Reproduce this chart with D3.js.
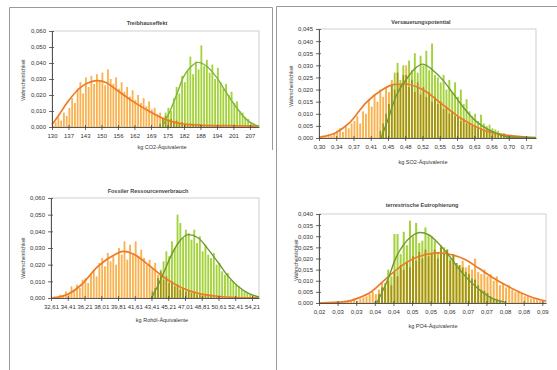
<!DOCTYPE html>
<html><head><meta charset="utf-8">
<script src="https://cdn.jsdelivr.net/npm/d3@7"></script>
<style>
html,body{margin:0;padding:0;background:#fff;}
svg{display:block;font-family:"Liberation Sans",Arial,sans-serif;}
</style></head><body>
<svg id="c" width="557" height="370"></svg>
<script>
// ---------- data ----------
const titles = ["Treibhauseffekt","Versauerungspotential","Fossiler Ressourcenverbrauch","terrestrische Eutrophierung"];
const xTitles = ["kg CO2-Äquivalente","kg SO2-Äquivalente","kg Rohöl-Äquivalente","kg PO4-Äquivalente"];
const yTitle = "Wahrscheinlichkeit";

const xLabels1 = ["130","137","143","150","156","162","169","175","182","188","194","201","207"];
const xLabels2 = ["0,30","0,34","0,37","0,41","0,45","0,48","0,52","0,55","0,59","0,63","0,66","0,70","0,73"];
const xLabels3 = ["32,61","34,41","36,21","38,01","39,81","41,61","43,41","45,21","47,01","48,81","50,61","52,41","54,21"];
const xLabels4 = ["0,02","0,03","0,03","0,04","0,04","0,05","0,05","0,06","0,07","0,07","0,08","0,08","0,09"];

const yTicks1 = [0,0.01,0.02,0.03,0.04,0.05,0.06];
const yTicks2 = [0,0.005,0.01,0.015,0.02,0.025,0.03,0.035,0.04,0.045];
const yTicks3 = [0,0.01,0.02,0.03,0.04,0.05,0.06];
const yTicks4 = [0,0.005,0.01,0.015,0.02,0.025,0.03,0.035,0.04];

// histogram bars: first bin position (in tick units), then bar heights
const orangeStart1 = 0;
const orangeBars1 = [0.001,0.003,0.006,0.004,0.009,0.007,
 0.012,0.018,0.015,0.024,0.028,0.021,
 0.031,0.025,0.032,0.027,0.033,0.029,
 0.034,0.026,0.036,0.030,0.027,0.031,
 0.024,0.028,0.022,0.025,0.019,0.023,
 0.017,0.020,0.015,0.018,0.013,0.016,
 0.011,0.012,0.008,0.009,0.006,0.007,
 0.004,0.005,0.003,0.004,0.002,0.003,
 0.002,0.0015,0.001,0.0015,0.001,0.0008,
 0.001,0.0006,0.0008,0.0005,0.0006,0.0005,
 0.0004,0.0005,0.0004,0.0003,0.0004,0.0003,
 0.0003,0.0002,0.0003,0.0002,0.0002,0.0002,
 0.0002,0.0001,0.0001];
const greenStart1 = 6.5;
const greenBars1 = [0.002,0.005,0.009,0.012,0.010,0.018,0.025,0.021,0.032,0.028,0.035,0.044,
 0.033,0.041,0.036,0.051,0.038,0.042,0.034,0.039,0.030,0.037,0.028,0.024,
 0.027,0.020,0.022,0.015,0.016,0.010,0.009,0.006,0.005,0.003,0.002,0.001];

const orangeStart2 = 0;
const orangeBars2 = [0.0005,0.001,0.0005,0.0015,0.001,0.002,
 0.003,0.004,0.0025,0.005,0.004,0.006,
 0.007,0.009,0.006,0.011,0.010,0.016,
 0.013,0.018,0.015,0.020,0.017,0.021,
 0.019,0.024,0.020,0.027,0.022,0.026,
 0.030,0.021,0.024,0.019,0.023,0.018,
 0.021,0.017,0.019,0.015,0.017,0.014,
 0.015,0.012,0.013,0.010,0.011,0.009,
 0.009,0.007,0.008,0.006,0.006,0.005,
 0.005,0.004,0.004,0.003,0.003,0.0025,
 0.002,0.002,0.0015,0.0015,0.001,0.001,
 0.001,0.0008,0.0006,0.0005,0.0004,0.0003,
 0.0003,0.0002];
const greenStart2 = 3.5;
const greenBars2 = [0.003,0.006,0.010,
 0.014,0.022,0.027,0.031,0.024,0.030,
 0.026,0.032,0.028,0.035,0.027,0.034,
 0.030,0.036,0.028,0.039,0.026,0.025,
 0.023,0.026,0.020,0.024,0.019,0.023,
 0.017,0.020,0.014,0.016,0.011,0.009,
 0.010,0.007,0.0096,0.006,0.005,0.0055,
 0.004,0.0035,0.003,0.002,0.002,0.001,
 0.001,0.0005];

const orangeStart3 = 0;
const orangeBars3 = [0.0005,0.001,0.001,0.002,0.0015,0.004,
 0.003,0.007,0.005,0.008,0.006,0.011,
 0.012,0.009,0.014,0.017,0.013,0.021,
 0.024,0.019,0.027,0.022,0.025,0.020,
 0.030,0.026,0.034,0.023,0.032,0.027,
 0.034,0.025,0.029,0.024,0.020,0.023,
 0.018,0.021,0.014,0.016,0.011,0.013,
 0.009,0.010,0.007,0.008,0.005,0.006,
 0.004,0.0045,0.003,0.003,0.002,0.002,
 0.0015,0.0015,0.001,0.001,0.0008,0.0006,
 0.0005,0.0004,0.0003];
const greenStart3 = 6.0;
const greenBars3 = [0.004,0.006,0.012,0.017,0.022,0.028,
 0.025,0.034,0.030,0.050,0.045,0.036,
 0.041,0.039,0.035,0.041,0.033,0.037,
 0.028,0.032,0.026,0.024,0.027,0.020,
 0.021,0.016,0.014,0.015,0.011,0.010,
 0.008,0.007,0.005,0.004,0.003,0.002,
 0.0015,0.001];

const orangeStart4 = 1.0;
const orangeBars4 = [0.0005,0.0005,0.001,0.0008,0.001,0.0015,
 0.001,0.002,0.0025,0.003,0.004,0.005,
 0.004,0.006,0.009,0.007,0.010,0.008,
 0.014,0.012,0.017,0.015,0.018,0.016,
 0.021,0.019,0.023,0.020,0.024,0.021,
 0.022,0.024,0.020,0.025,0.022,0.024,
 0.019,0.022,0.018,0.017,0.019,0.016,
 0.017,0.015,0.020,0.014,0.013,0.015,
 0.012,0.013,0.010,0.012,0.008,0.009,
 0.007,0.008,0.006,0.005,0.005,0.004,
 0.003,0.003,0.002,0.002,0.0015,0.001,
 0.001];
const greenStart4 = 3.0;
const greenBars4 = [0.001,0.004,0.007,0.009,0.015,0.012,
 0.031,0.031,0.022,0.032,0.026,0.037,
 0.030,0.036,0.027,0.028,0.034,0.031,
 0.030,0.028,0.023,0.026,0.025,0.024,
 0.020,0.022,0.018,0.017,0.016,0.014,
 0.013,0.011,0.0105,0.008,0.006,0.0055,
 0.0045,0.003,0.002,0.0015,0.001];

// fitted curves: [position in tick units, probability]
const orangeCurve1 = [[0,0.0015],[0.45,0.008],[0.9,0.015],[1.9,0.026],[2.8,0.029],[3.3,0.0277],[3.9,0.0233],[4.9,0.016],[5.9,0.0098],[6.9,0.0046],[7.9,0.002],[9,0.0012],[10.5,0.0008],[12.55,0.0005]];
const greenCurve1 = [[6.7,0.0005],[7.15,0.0098],[7.55,0.020],[7.96,0.031],[8.36,0.037],[8.87,0.0404],[9.37,0.038],[9.98,0.031],[10.6,0.021],[11.2,0.012],[11.8,0.0046],[12.4,0.001],[12.55,0.0006]];
const orangeCurve2 = [[0,0.0003],[1.0,0.0023],[1.76,0.0062],[2.72,0.0145],[3.69,0.020],[4.3,0.022],[4.95,0.0223],[6.0,0.020],[7.17,0.0138],[8.33,0.0076],[9.5,0.0034],[10.65,0.0014],[12.2,0.0003],[12.58,0.0002]];
const greenCurve2 = [[3.6,0],[4.0,0.0076],[4.46,0.0172],[5.04,0.024],[5.62,0.029],[6.0,0.0305],[6.6,0.028],[7.17,0.024],[7.75,0.0186],[8.33,0.013],[8.9,0.0083],[9.5,0.0048],[10.26,0.002],[11,0.0004],[12.58,0.0001]];
const orangeCurve3 = [[0.1,0],[1.0,0.0022],[1.8,0.0078],[2.8,0.019],[3.8,0.026],[4.3,0.028],[5.0,0.026],[5.8,0.020],[6.8,0.012],[7.8,0.0062],[8.8,0.0028],[9.8,0.0012],[11,0.0003],[12.42,0.0001]];
const greenCurve3 = [[6.0,0],[6.4,0.0078],[6.8,0.0168],[7.2,0.026],[7.6,0.033],[8.2,0.038],[8.8,0.036],[9.4,0.029],[10.0,0.021],[10.6,0.0128],[11.2,0.0068],[11.8,0.0028],[12.42,0.0006]];
const orangeCurve4 = [[0,0],[1.4,0.0006],[2.1,0.0022],[2.83,0.0052],[3.55,0.0105],[4.27,0.0157],[4.98,0.0195],[5.7,0.0217],[6.4,0.0225],[7.13,0.0217],[7.85,0.0195],[8.57,0.0157],[9.28,0.0117],[10.0,0.0082],[10.7,0.0052],[11.4,0.0027],[12.2,0.0009]];
const greenCurve4 = [[3.1,0],[3.37,0.0045],[3.73,0.0112],[4.09,0.0195],[4.53,0.026],[4.98,0.030],[5.43,0.0317],[5.88,0.0307],[6.4,0.027],[6.95,0.0217],[7.49,0.0157],[8.03,0.0105],[8.57,0.0063],[9.28,0.0022],[10,0.0004]];

// ---------- layout ----------
const BINS_PER_TICK = 6;
const panels = [
  {L:52,T:31,R:259,B:127,span:12.55,ymax:0.06,yt:yTicks1,xl:xLabels1,ob:orangeBars1,os:orangeStart1,gb:greenBars1,gs:greenStart1,oc:orangeCurve1,gc:greenCurve1,gcol:"#7fb53a",title:titles[0],tx:147,ty:25,xt:xTitles[0],xtx:162,xty:149,ytx:25,yty:80},
  {L:319,T:29,R:536,B:138,span:12.58,ymax:0.045,yt:yTicks2,xl:xLabels2,ob:orangeBars2,os:orangeStart2,gb:greenBars2,gs:greenStart2,oc:orangeCurve2,gc:greenCurve2,gcol:"#6e9a30",title:titles[1],tx:421,ty:24,xt:xTitles[1],xtx:423,xty:164,ytx:293,yty:86},
  {L:51,T:198,R:259,B:298,span:12.42,ymax:0.06,yt:yTicks3,xl:xLabels3,ob:orangeBars3,os:orangeStart3,gb:greenBars3,gs:greenStart3,oc:orangeCurve3,gc:greenCurve3,gcol:"#6e9a30",title:titles[2],tx:148,ty:193,xt:xTitles[2],xtx:162,xty:322,ytx:25,yty:258},
  {L:319,T:214,R:546,B:303,span:12.2,ymax:0.04,yt:yTicks4,xl:xLabels4,ob:orangeBars4,os:orangeStart4,gb:greenBars4,gs:greenStart4,oc:orangeCurve4,gc:greenCurve4,gcol:"#6e9a30",title:titles[3],tx:422,ty:207,xt:xTitles[3],xtx:433,xty:328,ytx:298,yty:260}
];

const svg = d3.select("#c");
svg.append("rect").attr("width",557).attr("height",370).attr("fill","#fff");

// outer frames
const fr = svg.append("g").attr("stroke","#9a9a9a").attr("stroke-width",1).attr("fill","none");
fr.append("path").attr("d","M9.5,370 V7.5 H272.5 V150");
fr.append("path").attr("d","M276.5,370 V6.5 H557");

const comma = v => d3.format(".3f")(v).replace(".",",");

panels.forEach(p => {
  const g = svg.append("g");
  const x = d3.scaleLinear().domain([0,p.span]).range([p.L,p.R]);
  const y = d3.scaleLinear().domain([0,p.ymax]).range([p.B,p.T]);
  const bw = (x(1/BINS_PER_TICK)-x(0));

  g.append("rect").attr("x",p.L).attr("y",p.T).attr("width",p.R-p.L).attr("height",p.B-p.T)
    .attr("fill","#fff").attr("stroke","#c4c4c4").attr("stroke-width",0.8);

  const bars = g.append("g").style("isolation","isolate");
  bars.append("g").selectAll("rect").data(p.ob).join("rect")
    .attr("x",(d,i)=>x(p.os+i/BINS_PER_TICK))
    .attr("y",d=>y(d)).attr("width",bw*0.66).attr("height",d=>y(0)-y(d))
    .attr("fill","#f9b250");
  bars.append("g").style("mix-blend-mode","multiply").selectAll("rect").data(p.gb).join("rect")
    .attr("x",(d,i)=>x(p.gs+i/BINS_PER_TICK))
    .attr("y",d=>y(d)).attr("width",bw*0.66).attr("height",d=>y(0)-y(d))
    .attr("fill","#a4d23a");

  const line = d3.line().x(d=>x(d[0])).y(d=>y(d[1])).curve(d3.curveMonotoneX);
  g.append("path").attr("d",line(p.oc)).attr("fill","none").attr("stroke","#ef7a26").attr("stroke-width",1.7);
  g.append("path").attr("d",line(p.gc)).attr("fill","none").attr("stroke",p.gcol).attr("stroke-width",1.4);

  const ax = g.append("g").attr("transform",`translate(0,${p.B})`)
    .call(d3.axisBottom(x).tickValues(d3.range(p.xl.length)).tickFormat(i=>p.xl[i]).tickSize(3).tickSizeOuter(0).tickPadding(4));
  const ay = g.append("g").attr("transform",`translate(${p.L},0)`)
    .call(d3.axisLeft(y).tickValues(p.yt).tickFormat(comma).tickSize(3).tickSizeOuter(0).tickPadding(3));
  [ax,ay].forEach(a=>{
    a.selectAll("path.domain").attr("stroke","#444").attr("stroke-width",0.9);
    a.selectAll(".tick line").attr("stroke","#444").attr("stroke-width",0.8);
    a.selectAll("text").attr("fill","#333").style("font-size","6px").style("font-family","'Liberation Sans',Arial,sans-serif");
  });
  ay.selectAll(".tick line").attr("x2",-3).attr("x1",2);
  ax.selectAll(".tick line").attr("y1",-2);

  g.append("text").attr("x",p.tx).attr("y",p.ty).attr("text-anchor","middle")
    .style("font-size","5.5px").style("font-weight","bold").attr("fill","#444").text(p.title);
  g.append("text").attr("x",p.xtx).attr("y",p.xty).attr("text-anchor","middle")
    .style("font-size","5.5px").attr("fill","#333").text(p.xt);
  g.append("text").attr("transform",`translate(${p.ytx},${p.yty}) rotate(-90)`).attr("text-anchor","middle")
    .style("font-size","5px").attr("fill","#444").text(yTitle);
});
</script>
</body></html>
